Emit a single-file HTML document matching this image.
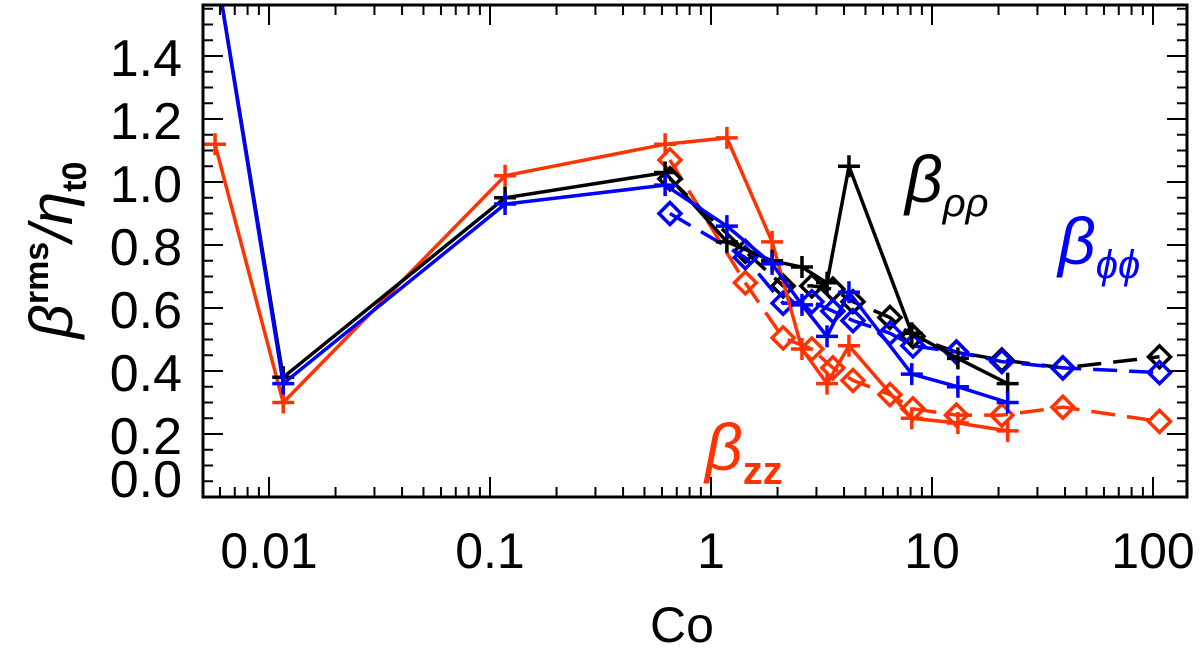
<!DOCTYPE html>
<html><head><meta charset="utf-8"><style>
html,body{margin:0;padding:0;background:#fff;}
svg text{font-family:"Liberation Sans",sans-serif;}
</style></head><body>
<svg id="chart" width="1200" height="650" viewBox="0 0 1200 650" xmlns="http://www.w3.org/2000/svg">
<defs><clipPath id="clip"><rect x="203" y="5" width="984" height="492"/></clipPath></defs>
<g id="marks" clip-path="url(#clip)"></g>
<g id="axes"></g>
<rect x="203" y="5" width="984" height="492" fill="none" stroke="#000" stroke-width="3"/>
<text x="682" y="642" font-size="50" text-anchor="middle">Co</text>
<g transform="translate(72,250) rotate(-90)">
<text x="0" y="0" font-size="60" text-anchor="middle" font-style="italic">β<tspan font-size="34" dy="-24" font-style="normal" font-weight="bold">rms</tspan><tspan dy="24">/η</tspan><tspan font-size="34" dy="14" font-style="normal" font-weight="bold">t0</tspan></text>
</g>
<text x="905" y="202" font-size="66" font-style="italic" fill="#000">β<tspan font-size="40" dy="14">ρρ</tspan></text>
<text x="1058" y="264" font-size="66" font-style="italic" fill="#0000ff">β<tspan font-size="40" dy="14">ϕϕ</tspan></text>
<text x="705" y="470" font-size="66" font-style="italic" fill="#ff3300">β<tspan font-size="40" dy="14" font-style="normal" font-weight="bold">zz</tspan></text>
</svg>
<script>
const plusCo=[0.0057,0.0116,0.117,0.62,1.18,1.89,2.58,3.35,4.21,8.1,13.1,22.0];
const blackPlus=[1.70,0.38,0.95,1.03,0.81,0.75,0.73,0.68,1.05,0.52,0.44,0.36];
const bluePlus=[1.70,0.36,0.93,0.99,0.86,0.74,0.61,0.51,0.65,0.39,0.35,0.30];
const redPlus=[1.12,0.30,1.02,1.12,1.14,0.81,0.47,0.36,0.48,0.25,0.235,0.21];
const diaCo=[0.652,1.43,2.12,2.86,3.56,4.39,6.45,8.2,12.9,20.7,39.1,107];
const blackDia=[1.01,0.78,0.67,0.67,0.66,0.62,0.57,0.51,0.46,0.435,0.41,0.445];
const blueDia=[0.90,0.76,0.615,0.62,0.59,0.56,0.52,0.48,0.46,0.43,0.41,0.395];
const redDia=[1.07,0.68,0.505,0.47,0.41,0.37,0.325,0.28,0.26,0.26,0.285,0.24];
const yTicks=[0,0.2,0.4,0.6,0.8,1.0,1.2,1.4];
const xTicks=[0.01,0.1,1,10,100];
const xTickLabels=["0.01","0.1","1","10","100"];

const NS="http://www.w3.org/2000/svg";
function xs(v){return 711+221*Math.log10(v);}
function ys(v){return 497-315*v;}
const marks=document.getElementById('marks');
const axes=document.getElementById('axes');
function mk(tag,attrs,parent){const e=document.createElementNS(NS,tag);for(const k in attrs)e.setAttribute(k,attrs[k]);parent.appendChild(e);return e;}

function series(xv,yv,color,dashed,marker,name){
  const pts=xv.map((x,i)=>xs(x).toFixed(1)+','+ys(yv[i]).toFixed(1)).join(' ');
  const pl=mk('polyline',{points:pts,fill:'none',stroke:color,'stroke-width':3.5,'stroke-dasharray':dashed?'24,12':'none'},marks);
  
  
  xv.forEach((x,i)=>{
    const cx=xs(x),cy=ys(yv[i]);
    let m;
    if(marker==='plus'){
      m=mk('path',{d:`M${cx-11},${cy}H${cx+11}M${cx},${cy-11}V${cy+11}`,stroke:color,'stroke-width':3.5,fill:'none'},marks);
    }else{
      m=mk('path',{d:`M${cx},${cy-11}L${cx+11},${cy}L${cx},${cy+11}L${cx-11},${cy}Z`,stroke:color,'stroke-width':3.5,fill:'none'},marks);
    }
    
    
  });
}
series(diaCo,redDia,'#ff3300',true,'dia','red-diamond');
series(diaCo,blackDia,'#000',true,'dia','black-diamond');
series(diaCo,blueDia,'#0000ff',true,'dia','blue-diamond');
series(plusCo,redPlus,'#ff3300',false,'plus','red-plus');
series(plusCo,blackPlus,'#000',false,'plus','black-plus');
series(plusCo,bluePlus,'#0000ff',false,'plus','blue-plus');

for(let v=0;v<=1.56;v+=0.05){
  const y=ys(v);const major=Math.abs(v*5-Math.round(v*5))<1e-6;
  const len=major?20:10;
  const t=mk('line',{x1:203,x2:203+len,y1:y,y2:y,stroke:'#000','stroke-width':2},axes);
  
  
  const t2=mk('line',{x1:1187,x2:1187-len,y1:y,y2:y,stroke:'#000','stroke-width':2},axes);
  
  
}
yTicks.forEach(v=>{
  const t=mk('text',{x:182,y:ys(v)+(v===0?0:20),'font-size':52,'text-anchor':'end'},axes);
  t.textContent=v.toFixed(1);
  
  
});
for(let d=-3;d<=2;d++){
  for(let k=1;k<10;k++){
    const v=k*Math.pow(10,d);const x=xs(v);
    if(x<203||x>1187)continue;
    const len=k===1?20:10;
    const t=mk('line',{x1:x,x2:x,y1:497,y2:497-len,stroke:'#000','stroke-width':2},axes);
    
    
    const t2=mk('line',{x1:x,x2:x,y1:5,y2:5+len,stroke:'#000','stroke-width':2},axes);
    
    
  }
}
xTicks.forEach((v,i)=>{
  const t=mk('text',{x:xs(v),y:568,'font-size':50,'text-anchor':'middle'},axes);
  t.textContent=xTickLabels[i];
  
  
});
</script>
</body></html>
